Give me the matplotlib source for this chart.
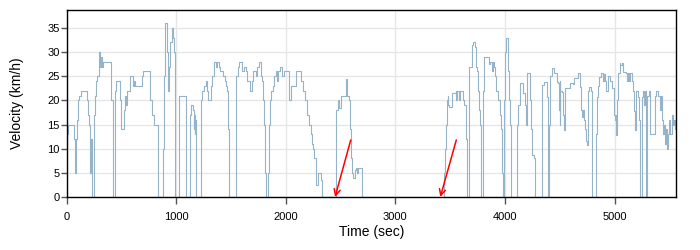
import matplotlib
matplotlib.use("Agg")
import matplotlib.pyplot as plt

plt.rcParams['font.family'] = ['Liberation Sans', 'DejaVu Sans']

# velocity profile (step changes: time in sec, speed in km/h)
time_sec = [
    0, 5, 10, 65, 70, 78, 86, 96, 106, 117, 130, 178, 186, 194, 204, 212, 216, 220, 224, 228, 232, 236,
    254, 262, 270, 282, 300, 306, 311, 316, 322, 328, 336, 400, 409, 420, 428,
    445, 452, 484, 490, 498, 521, 524, 531, 540, 548, 575, 582, 597, 606, 615, 624, 676, 686, 700, 758, 764, 780, 795, 832,
    884, 889, 896, 903, 916, 922, 928, 938, 948, 958, 970, 980, 990,
    1026, 1090, 1130, 1140, 1155, 1160, 1164, 1168, 1172, 1178,
    1229, 1240, 1255, 1270, 1282, 1292, 1315, 1330, 1345, 1360, 1375, 1390, 1400, 1418, 1430, 1445, 1458, 1468, 1476, 1482,
    1543, 1560, 1575, 1605, 1620, 1640, 1650, 1675, 1690, 1705, 1725, 1740, 1760, 1771, 1784, 1796, 1802, 1808, 1815, 1824,
    1841, 1845, 1852, 1865, 1885, 1895, 1908, 1917, 1928, 1948, 1970, 1982, 2030, 2034, 2045, 2095, 2140, 2160, 2180,
    2195, 2210, 2227, 2236, 2248, 2260, 2272, 2290, 2318, 2328,
    2462, 2478, 2488, 2500, 2548, 2554, 2562, 2578, 2586, 2594, 2602, 2612, 2628, 2645, 2652, 2658, 2700,
    3440, 3450, 3462, 3470, 3478, 3484, 3491, 3518, 3550, 3553, 3558, 3580, 3590, 3615, 3628, 3640, 3650,
    3668, 3674, 3695, 3702, 3712, 3730, 3735, 3745, 3755, 3762, 3768, 3780,
    3801, 3810, 3850, 3856, 3865, 3877, 3887, 3899, 3908, 3917, 3940, 3952, 3962, 3972, 3980,
    3992, 4000, 4008, 4024, 4032, 4040, 4046, 4054,
    4110, 4122, 4135, 4163, 4184, 4188, 4192, 4196, 4199, 4205, 4230, 4240, 4250, 4266, 4275,
    4342, 4357, 4380, 4388, 4396, 4403, 4410, 4425, 4445, 4470, 4486, 4494, 4498, 4502, 4506, 4519, 4530, 4535, 4546,
    4590, 4620, 4630, 4668, 4684, 4692, 4706, 4712, 4718, 4730, 4737, 4748, 4760, 4768, 4788, 4798,
    4829, 4836, 4848, 4862, 4880, 4895, 4905, 4915, 4922, 4938, 4955, 4978, 4990, 4998, 5004, 5010, 5016, 5022, 5030,
    5045, 5052, 5065, 5080, 5100, 5110, 5120, 5130, 5140, 5155, 5170, 5180, 5190, 5196, 5210, 5225, 5235,
    5248, 5258, 5270, 5278, 5290, 5300, 5312, 5321, 5367, 5382, 5397, 5410, 5420, 5430, 5440, 5450, 5460, 5468,
    5478, 5488, 5498, 5508, 5519, 5530, 5540, 5549, 5560,
]
speed_kmh = [
    10, 13, 15, 15, 12, 5, 12, 16, 20, 21, 22, 22, 20, 17, 15, 12, 5, 12, 5, 12, 5, 0,
    17, 21, 24, 25, 30, 27, 29, 27, 29, 27, 28, 28, 20, 9, 0,
    22, 24, 24, 20, 14, 14, 18, 21, 19, 22, 22, 25, 25, 23, 24, 23, 23, 25, 26, 26, 20, 17, 15, 0,
    10, 25, 33, 36, 30, 25, 22, 27, 32, 35, 33, 30, 0,
    21, 0, 17, 19, 18, 14, 17, 13, 16, 0,
    20, 22, 23, 24, 22, 20, 23, 25, 28, 27, 28, 27, 26, 26, 25, 24, 23, 22, 14, 0,
    25, 27, 28, 26, 27, 26, 24, 22, 24, 26, 25, 27, 28, 25, 24, 20, 15, 10, 5, 0,
    5, 15, 20, 22, 23, 25, 26, 24, 26, 27, 25, 26, 25, 20, 23, 26, 24, 22, 20,
    17, 15, 13, 11, 10, 8, 2.5, 5, 3.5, 0,
    18, 20, 18.5, 21, 22, 24.5, 21, 20, 14, 8, 5, 4, 5.6, 6, 5, 6, 0,
    5, 10, 15, 20, 21, 19, 18.7, 21.5, 22, 20, 22, 20, 22, 20, 19, 12, 0,
    15, 27, 28, 31.5, 32, 31, 27, 26, 22, 18, 15, 0,
    22, 29, 29, 27.5, 28, 26, 28, 27, 25, 22, 20, 17, 14, 5, 0,
    20, 30, 33, 30, 26, 20, 15, 0,
    15, 19, 23.5, 21.5, 19, 15, 19, 15, 24.5, 25.7, 20, 14, 8.7, 8, 0,
    23.2, 23.9, 20.7, 13.9, 0, 15, 25, 26.6, 25.6, 23.9, 23.5, 18, 24, 15, 22, 21.8, 17, 13.9, 22.5,
    23.5, 23.3, 24.6, 25.6, 22.8, 18, 16.5, 18, 16, 14, 11.5, 10.8, 22, 22.8, 22, 0,
    13, 20.7, 23, 24.8, 25.6, 24, 25.5, 24, 22, 25, 24, 22.5, 20, 17, 16, 17, 12.8, 20, 25.6,
    27.7, 27.3, 27.7, 25.9, 25.6, 24, 25.6, 24, 25.6, 24, 22, 17.7, 13.9, 22, 20.7, 16, 0,
    20.7, 22, 19, 22, 0, 21, 22, 13, 21, 22, 21, 18, 21, 16, 13, 15, 11, 14,
    10, 13, 16, 13, 17, 15, 16, 14, 15,
]

# arrows marking the two stops: (tail time, tail speed) -> (head time, head speed)
arrow_tail_t = [2593, 3556]
arrow_tail_v = [11.8, 11.8]
arrow_head_t = [2450, 3410]
arrow_head_v = [0, 0]

fig = plt.figure(figsize=(7, 2.5), dpi=100)
ax = fig.add_axes([66.5 / 700, 53 / 250, 609.5 / 700, 187 / 250])

ax.plot(time_sec, speed_kmh, drawstyle='steps-post', color='#95b3c9', lw=0.8)

for tx, tv, hx, hv in zip(arrow_tail_t, arrow_tail_v, arrow_head_t, arrow_head_v):
    ax.annotate('', xy=(hx, hv), xytext=(tx, tv),
                arrowprops=dict(arrowstyle='->', color='red', lw=1.1, mutation_scale=11,
                                shrinkA=0, shrinkB=0))

ax.set_xlim(0, 5560)
ax.set_ylim(0, 38.7)
ax.set_xticks(range(0, 5001, 1000))
ax.set_yticks(range(0, 36, 5))
ax.grid(True, color='#e6e6e6', lw=1)
ax.set_axisbelow(True)

ax.tick_params(axis='x', labelsize=8, length=5, width=1, color='#555555', pad=6)
ax.tick_params(axis='y', labelsize=8, length=4, width=1, color='#555555', pad=1)
for sp in ax.spines.values():
    sp.set_color('black')
    sp.set_linewidth(1)

ax.set_xlabel('Time (sec)', fontsize=10, labelpad=2)
ax.set_ylabel('Velocity (km/h)', fontsize=10, labelpad=17)

fig.savefig('out.png', dpi=100)
